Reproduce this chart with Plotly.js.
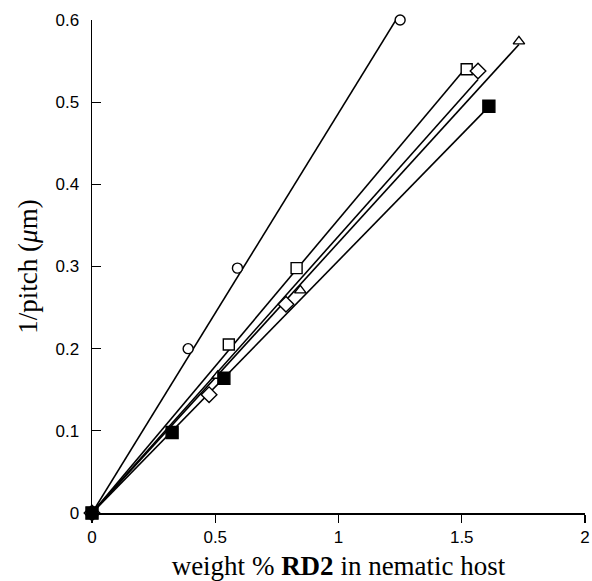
<!DOCTYPE html>
<html>
<head>
<meta charset="utf-8">
<script src="https://cdn.plot.ly/plotly-3.0.1.min.js"></script>
<style>html,body{margin:0;padding:0;background:#fff;}#chart{width:592px;height:581px;}</style>
</head>
<body>
<div id="chart"></div>
<script>
// Series data (weight % RD2, 1/pitch in µm)
const circleX = [0, 0.39, 0.59, 1.25];
const circleY = [0, 0.200, 0.298, 0.600];
const squareX = [0, 0.555, 0.83, 1.52];
const squareY = [0, 0.205, 0.298, 0.540];
const diamondX = [0, 0.475, 0.787, 1.566];
const diamondY = [0, 0.144, 0.254, 0.538];
const triangleX = [0, 0.51, 0.845, 1.732];
const triangleY = [0, 0.167, 0.271, 0.574];
const filledX = [0, 0.325, 0.535, 1.61];
const filledY = [0, 0.098, 0.164, 0.495];

const xTicks = [0, 0.5, 1, 1.5, 2];
const xTickText = ['0', '0.5', '1', '1.5', '2'];
const yTicks = [0, 0.1, 0.2, 0.3, 0.4, 0.5, 0.6];
const yTickText = ['0', '0.1', '0.2', '0.3', '0.4', '0.5', '0.6'];

function fitLine(xs, ys) {
  let sxy = 0, sxx = 0;
  for (let i = 0; i < xs.length; i++) { sxy += xs[i] * ys[i]; sxx += xs[i] * xs[i]; }
  const k = sxy / sxx;
  const xmax = Math.max(...xs);
  return { x: [0, xmax], y: [0, k * xmax] };
}

const series = [
  { x: circleX, y: circleY, symbol: 'circle', size: 10, fill: '#fff' },
  { x: squareX, y: squareY, symbol: 'square', size: 11, fill: '#fff' },
  { x: diamondX, y: diamondY, symbol: 'diamond', size: 12, fill: '#fff' },
  { x: triangleX, y: triangleY, symbol: 'triangle-up', size: 10, fill: '#fff' },
  { x: filledX, y: filledY, symbol: 'square', size: 12, fill: '#000' }
];

const traces = [];
series.forEach(s => {
  const f = fitLine(s.x, s.y);
  traces.push({ x: f.x, y: f.y, mode: 'lines', line: { color: '#000', width: 1.6 }, hoverinfo: 'skip', showlegend: false, cliponaxis: false });
});
series.forEach(s => {
  traces.push({ x: s.x, y: s.y, mode: 'markers', showlegend: false, cliponaxis: false,
    marker: { symbol: s.symbol, size: s.size, color: s.fill, line: { color: '#000', width: 1.4 } } });
});

const tickFont = { family: 'Liberation Sans, Arial, sans-serif', size: 17, color: '#000' };
const titleFont = { family: 'Liberation Serif, Times New Roman, serif', size: 27, color: '#000' };

const layout = {
  width: 592, height: 581,
  margin: { l: 92, r: 7, t: 20, b: 68 },
  paper_bgcolor: '#fff', plot_bgcolor: '#fff',
  showlegend: false,
  xaxis: {
    range: [0, 2], tickvals: xTicks, ticktext: xTickText,
    showgrid: false, zeroline: false, showline: true, linecolor: '#000', linewidth: 1.5,
    ticks: 'outside', ticklen: 8, tickwidth: 1.2, tickcolor: '#000',
    tickfont: tickFont,
    title: { text: 'weight % <b>RD2</b> in nematic host', font: titleFont, standoff: 12 }
  },
  yaxis: {
    range: [0, 0.6], tickvals: yTicks, ticktext: yTickText,
    showgrid: false, zeroline: false, showline: true, linecolor: '#000', linewidth: 1.5,
    ticks: 'inside', ticklen: 9, tickwidth: 1.2, tickcolor: '#000',
    ticklabelstandoff: 8,
    tickfont: tickFont,
    title: { text: '1/pitch (<i>μ</i>m)', font: titleFont, standoff: 10 }
  }
};

Plotly.newPlot('chart', traces, layout, { displayModeBar: false, staticPlot: true });
</script>
</body>
</html>
